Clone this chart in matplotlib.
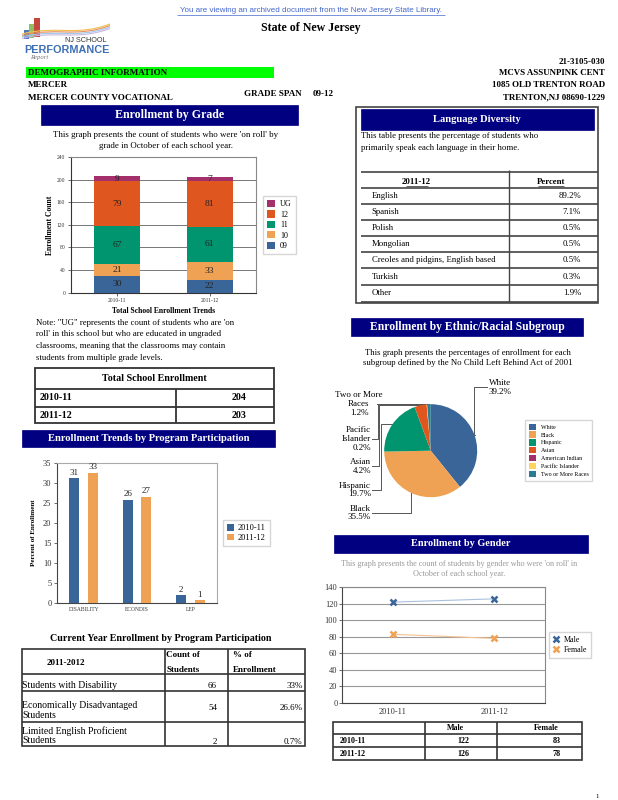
import numpy as np
import matplotlib.pyplot as plt
from matplotlib.patches import Rectangle, PathPatch
from matplotlib.path import Path
from matplotlib.lines import Line2D

plt.rcParams['font.family'] = ['Liberation Serif', 'DejaVu Serif']

# ---------------- data ----------------
years = ['2010-11', '2011-12']
grade_names = ['09', '10', '11', '12', 'UG']
g09 = [30, 22]
g10 = [21, 33]
g11 = [67, 61]
g12 = [79, 81]
gUG = [9, 7]
grade_colors = ['#3a6598', '#f0a254', '#00956f', '#e0561f', '#a4306b']

total_enroll = [204, 203]

prog_cats = ['DISABILITY', 'ECONDIS', 'LEP']
prog_1011 = [31.2, 25.8, 1.9]
prog_1112 = [32.6, 26.6, 0.7]

cur_rows = ['Students with Disability', 'Economically Disadvantaged\nStudents',
            'Limited English Proficient\nStudents']
cur_count = [66, 54, 2]
cur_pct = ['33%', '26.6%', '0.7%']

lang_names = ['English', 'Spanish', 'Polish', 'Mongolian',
              'Creoles and pidgins, English based', 'Turkish', 'Other']
lang_pct = ['89.2%', '7.1%', '0.5%', '0.5%', '0.5%', '0.3%', '1.9%']

eth_names = ['White', 'Black', 'Hispanic', 'Asian', 'American Indian',
             'Pacific Islander', 'Two or More Races']
eth_pct = [39.2, 35.5, 19.7, 4.2, 0.0, 0.2, 1.2]
eth_colors = ['#3a6598', '#f0a254', '#00956f', '#e0561f', '#a4306b', '#ffd35c', '#2a7c93']

male = [122, 126]
female = [83, 78]

NAVY = '#000080'
W, H = 618, 800

fig = plt.figure(figsize=(6.18, 8), dpi=100)
page = fig.add_axes([0, 0, 1, 1])
page.set_xlim(0, W)
page.set_ylim(H, 0)
page.axis('off')


def txt(x, y, s, size=6.3, **kw):
    kw.setdefault('va', 'center')
    page.text(x, y, s, fontsize=size, **kw)


def box(x0, y0, x1, y1, fc='none', ec='#333', lw=1.0):
    page.add_patch(Rectangle((x0, y0), x1 - x0, y1 - y0, facecolor=fc, edgecolor=ec, lw=lw))


def hl(y, x0, x1, c='#333', lw=1.0):
    page.plot([x0, x1], [y, y], color=c, lw=lw, solid_capstyle='butt')


def vl(x, y0, y1, c='#333', lw=1.0):
    page.plot([x, x], [y0, y1], color=c, lw=lw, solid_capstyle='butt')


def banner(x0, y0, x1, y1, title, size):
    box(x0, y0, x1, y1, fc=NAVY, ec=NAVY, lw=0.5)
    txt((x0 + x1) / 2, (y0 + y1) / 2, title, size, color='white', weight='bold', ha='center')


def add_ax(l, t, r, b):
    return fig.add_axes([l / W, 1 - b / H, (r - l) / W, (b - t) / H])


# ---------------- header ----------------
txt(311, 10, 'You are viewing an archived document from the New Jersey State Library.', 5.8,
    family='Liberation Sans', color='#4466cc', ha='center')
hl(14.8, 177, 445, c='#4466cc', lw=0.5)
txt(311, 28, 'State of New Jersey', 8.6, weight='bold', ha='center')

# logo
page.add_patch(Rectangle((24, 29.5), 4.5, 9, fc='#4f78b8', ec='none'))
page.add_patch(Rectangle((28.5, 24), 5, 14, fc='#8cc063', ec='none'))
page.add_patch(Rectangle((33.5, 18.3), 6, 19, fc='#c4463c', ec='none'))
for dy, c in zip([0, 1.5, 3, 4.5], ['#f2c14e', '#e98b5c', '#9fc7e8', '#c9b6e4']):
    verts = [(22, 34 + dy), (55, 25 + dy), (75, 37 + dy), (110, 24 + dy)]
    page.add_patch(PathPatch(Path(verts, [Path.MOVETO, Path.CURVE4, Path.CURVE4, Path.CURVE4]),
                             fc='none', ec=c, lw=0.8))
txt(65, 40.5, 'NJ SCHOOL', 5.2, family='Liberation Sans', color='#333', ha='left')
txt(24, 49.8, 'PERFORMANCE', 7.8, family='Liberation Sans', weight='bold', color='#3d6fb5', ha='left')
txt(30, 57.9, 'Report', 4.8, style='italic', color='#777', ha='left')

for y, s in zip([61.5, 73, 85, 97.7],
                ['21-3105-030', 'MCVS ASSUNPINK CENT', '1085 OLD TRENTON ROAD', 'TRENTON,NJ 08690-1229']):
    txt(605, y, s, 6.4, weight='bold', ha='right')

box(26, 66.7, 274, 78.3, fc='#00ff00', ec='none')
txt(28, 72.7, 'DEMOGRAPHIC INFORMATION', 6.5, weight='bold', ha='left')
txt(28, 85, 'MERCER', 6.5, weight='bold', ha='left')
txt(28, 97.7, 'MERCER COUNTY VOCATIONAL', 6.5, weight='bold', ha='left')
txt(244, 94.3, 'GRADE SPAN', 6.5, weight='bold', ha='left')
txt(313, 94.3, '09-12', 6.5, weight='bold', ha='left')

# ---------------- enrollment by grade ----------------
banner(41, 105, 298, 125, 'Enrollment by Grade', 8.6)
txt(166, 134.7, "This graph presents the count of students who were 'on roll' by", 6.4, ha='center')
txt(166, 145.7, 'grade in October of each school year.', 6.4, ha='center')

ax = add_ax(70.7, 157, 256, 292.7)
xg = np.arange(len(years))
bottom = np.zeros(len(years))
handles = []
for name, vals, col in zip(grade_names, [g09, g10, g11, g12, gUG], grade_colors):
    bars = ax.bar(xg, vals, 0.5, bottom=bottom, color=col, label=name, zorder=3)
    ax.bar_label(bars, labels=[str(v) for v in vals], label_type='center', fontsize=6.8, color='#222')
    bottom += np.array(vals)
    handles.append(bars)
ax.set_xlim(-0.5, 1.5)
ax.set_ylim(0, 240)
ax.set_yticks(range(0, 241, 40))
ax.set_xticks(xg, years)
ax.tick_params(labelsize=4, length=2, width=0.5, pad=2, colors='#333')
ax.yaxis.grid(True, color='#777', lw=0.7)
ax.set_axisbelow(True)
for s in ['top', 'right']:
    ax.spines[s].set_color('#888')
for s in ['left', 'bottom']:
    ax.spines[s].set_color('#333')
ax.set_ylabel('Enrollment Count', fontsize=5.5, weight='bold', labelpad=2)
ax.set_xlabel('Total School Enrollment Trends', fontsize=5.5, weight='bold', labelpad=3)
ax.legend(handles[::-1], grade_names[::-1], loc='upper left', bbox_to_anchor=(263, 196),
          bbox_transform=page.transData, fontsize=5.8, frameon=True, fancybox=False,
          edgecolor='#ccc', handlelength=1.0, handleheight=1.0, labelspacing=0.25,
          borderpad=0.5, handletextpad=0.6, borderaxespad=0)

txt(36, 323, "Note: \"UG\" represents the count of students who are 'on", 6.3, ha='left')
txt(36, 334.5, "roll' in this school but who are educated in ungraded", 6.3, ha='left')
txt(36, 346, 'classrooms, meaning that the classrooms may contain', 6.3, ha='left')
txt(36, 357.5, 'students from multiple grade levels.', 6.3, ha='left')

# total school enrollment table
box(35, 368, 274, 423, lw=1.3)
hl(389, 35, 274, lw=1.3)
hl(407, 35, 274, lw=1.3)
vl(176, 389, 423, lw=1.3)
txt(154.5, 378.5, 'Total School Enrollment', 7.2, weight='bold', ha='center')
for y, yr, tot in zip([398, 415], years, total_enroll):
    txt(40, y, yr, 7.2, weight='bold', ha='left')
    txt(246, y, str(tot), 7.2, weight='bold', ha='right')

# ---------------- program participation ----------------
banner(22, 430, 275, 447, 'Enrollment Trends by Program Participation', 7.6)
ax2 = add_ax(57, 463, 217, 603)
xp = np.arange(len(prog_cats))
b1 = ax2.bar(xp - 0.175, prog_1011, 0.19, color='#3a6598', label=years[0], zorder=3)
b2 = ax2.bar(xp + 0.175, prog_1112, 0.19, color='#f0a254', label=years[1], zorder=3)
ax2.bar_label(b1, fmt='%.0f', fontsize=6.5, padding=1, color='#222')
ax2.bar_label(b2, fmt='%.0f', fontsize=6.5, padding=1, color='#222')
ax2.set_xlim(-0.5, 2.5)
ax2.set_ylim(0, 35)
ax2.set_yticks(range(0, 36, 5))
ax2.set_xticks(xp, prog_cats)
ax2.tick_params(axis='y', labelsize=6, length=2, width=0.5, pad=2, colors='#333')
ax2.tick_params(axis='x', labelsize=4, length=0, pad=3, colors='#333')
for s in ['top', 'right']:
    ax2.spines[s].set_color('#aaa')
for s in ['left', 'bottom']:
    ax2.spines[s].set_color('#444')
ax2.set_ylabel('Percent of Enrollment', fontsize=5, weight='bold', labelpad=5)
ax2.legend(loc='upper left', bbox_to_anchor=(223, 520), bbox_transform=page.transData,
           fontsize=6, frameon=True, fancybox=False, edgecolor='#ccc', handlelength=0.8,
           handleheight=0.8, labelspacing=0.2, borderpad=0.5, handletextpad=0.5, borderaxespad=0)

txt(160.5, 638.3, 'Current Year Enrollment by Program Participation', 7.2, weight='bold', ha='center')
box(21.7, 649, 305, 746, lw=1.2)
for y in [674, 690.7, 721.7]:
    hl(y, 21.7, 305, lw=1.2)
vl(165, 649, 746, lw=1.2)
vl(228.3, 649, 746, lw=1.2)
txt(66, 663.3, '2011-2012', 6.5, weight='bold', ha='center')
txt(166.5, 655, 'Count of', 6.5, weight='bold', ha='left')
txt(166.5, 669.5, 'Students', 6.5, weight='bold', ha='left')
txt(233, 655, '% of', 6.5, weight='bold', ha='left')
txt(233, 669.5, 'Enrollment', 6.5, weight='bold', ha='left')
for y, lab in zip([685.5, 710.5, 735.5], cur_rows):
    txt(22, y, lab, 7, ha='left', linespacing=1.05)
for y, c, p in zip([685.5, 708.5, 741.5], cur_count, cur_pct):
    txt(217, y, str(c), 6.5, ha='right')
    txt(302.5, y, p, 6.5, ha='right')

# ---------------- language diversity ----------------
box(355.7, 107, 597.7, 302.7, ec='#444', lw=1.2)
banner(360.7, 109, 594, 129.7, 'Language Diversity', 7.6)
txt(361, 135.7, 'This table presents the percentage of students who', 6.3, ha='left')
txt(361, 147.7, 'primarily speak each language in their home.', 6.3, ha='left')
lang_lines = [172, 188.3, 204, 220, 236, 252, 268.3, 285, 301.7]
for y in lang_lines:
    hl(y, 360.7, 597.7, c='#444', lw=1.2)
vl(509.3, 170, 302, c='#444', lw=1.0)
txt(416.7, 182, '2011-12', 6.3, weight='bold', ha='center')
txt(550.7, 182, 'Percent', 6.3, weight='bold', ha='center')
hl(186.3, 405.5, 428, c='#222', lw=0.5)
hl(186.3, 537.5, 564, c='#222', lw=0.5)
for i, (n, p) in enumerate(zip(lang_names, lang_pct)):
    yc = (lang_lines[i + 1] + lang_lines[i + 2]) / 2
    txt(371.7, yc, n, 6.3, ha='left')
    txt(581, yc, p, 6.3, ha='right')

# ---------------- ethnic pie ----------------
banner(350.7, 318.3, 583.3, 336, 'Enrollment by Ethnic/Racial Subgroup', 8.4)
txt(467.7, 352.7, 'This graph presents the percentages of enrollment for each', 6.3, ha='center')
txt(467.7, 363.3, 'subgroup defined by the No Child Left Behind Act of 2001', 6.3, ha='center')

pie_l, pie_t, pie_d = 384.2, 404.2, 93
ax4 = add_ax(pie_l, pie_t, pie_l + pie_d, pie_t + pie_d)
wedges, _ = ax4.pie(eth_pct, colors=eth_colors, startangle=90, counterclock=False,
                    radius=1, wedgeprops=dict(lw=0))
ax4.set_xlim(-1, 1)
ax4.set_ylim(-1, 1)
ax4.legend(wedges, eth_names, loc='upper left', bbox_to_anchor=(525, 420),
           bbox_transform=page.transData, fontsize=4.3, frameon=True, fancybox=False,
           edgecolor='#ccc', handlelength=1.2, handleheight=1.2, labelspacing=0.3,
           borderpad=0.6, handletextpad=0.8, borderaxespad=0)

cx, cy, rr = pie_l + pie_d / 2, pie_t + pie_d / 2, pie_d / 2
cum = np.cumsum([0] + eth_pct)
mid = np.radians(90 - 360 * (cum[:-1] + cum[1:]) / 2 / 100)
tx = cx + rr * np.cos(mid)
ty = cy - rr * np.sin(mid)

# label text, label anchor x, y, alignment, leader start x, elbow x
pie_labels = {
    'White': ('White', 489, 387.2, 'left', 487, 473.5),
    'Black': ('Black', 371, 513, 'right', 372, None),
    'Hispanic': ('Hispanic', 371, 490, 'right', 372, 380.5),
    'Asian': ('Asian', 371, 466.3, 'right', 372, 379.3),
    'Pacific Islander': ('Pacific\nIslander', 371, 439.3, 'right', 372, 377.7),
    'Two or More Races': ('Two or More\nRaces', 359, 404.3, 'center', 377, 378),
}
for i, name in enumerate(eth_names):
    if name not in pie_labels:
        continue
    lab, lx, ly, ha, sx, ex = pie_labels[name]
    txt(lx, ly, f'{lab}\n{eth_pct[i]:.1f}%', 6.5, ha=ha, multialignment=ha, linespacing=1.15)
    if ex is None:
        ex = tx[i]
    page.plot([sx, ex, ex, tx[i]], [ly, ly, ty[i], ty[i]], color='#555', lw=0.7)

# ---------------- gender ----------------
banner(334, 535, 587.7, 552.7, 'Enrollment by Gender', 7.4)
txt(459, 564.3, "This graph presents the count of students by gender who were 'on roll' in", 5.9,
    ha='center', color='#999')
txt(459, 574.3, 'October of each school year.', 5.9, ha='center', color='#999')

ax3 = add_ax(342.3, 587.3, 545, 702.7)
ax3.plot(xg, male, color='#a9c1df', lw=0.8, marker='x', mec='#3a6598', ms=4, mew=1.8, zorder=3)
ax3.plot(xg, female, color='#f5c18f', lw=0.8, marker='x', mec='#f0a254', ms=4, mew=1.8, zorder=3)
ax3.set_xlim(-0.5, 1.5)
ax3.set_ylim(0, 140)
ax3.set_yticks(range(0, 141, 20))
ax3.set_xticks(xg, years)
ax3.tick_params(labelsize=6, length=2, width=0.5, pad=1.5, colors='#333')
ax3.tick_params(axis='x', length=0, pad=4)
ax3.yaxis.grid(True, color='#999', lw=0.8)
ax3.set_axisbelow(True)
for s in ax3.spines.values():
    s.set_color('#888')
ax3.spines['left'].set_color('#444')
ax3.spines['bottom'].set_color('#444')
g_handles = [Line2D([], [], ls='none', marker='x', mec='#3a6598', ms=4, mew=1.8),
             Line2D([], [], ls='none', marker='x', mec='#f0a254', ms=4, mew=1.8)]
ax3.legend(g_handles, ['Male', 'Female'], loc='upper left', bbox_to_anchor=(549, 632),
           bbox_transform=page.transData, fontsize=5.8, frameon=True, fancybox=False,
           edgecolor='#ccc', handlelength=0.8, labelspacing=0.2, borderpad=0.5,
           handletextpad=0.5, borderaxespad=0)

box(333, 721.7, 582, 760, lw=1.2)
hl(734, 333, 582, lw=1.2)
hl(747.3, 333, 582, lw=1.2)
vl(425, 721.7, 760, lw=1.2)
vl(497.3, 721.7, 760, lw=1.2)
txt(455, 728, 'Male', 5.8, weight='bold', ha='center')
txt(546, 728, 'Female', 5.8, weight='bold', ha='center')
for y, yr, m, f in zip([740.7, 754], years, male, female):
    txt(339.3, y, yr, 5.8, weight='bold', ha='left')
    txt(469, y, str(m), 5.8, weight='bold', ha='right')
    txt(561, y, str(f), 5.8, weight='bold', ha='right')

txt(597, 797, '1', 5, ha='center')

fig.savefig('out.png', dpi=100)
